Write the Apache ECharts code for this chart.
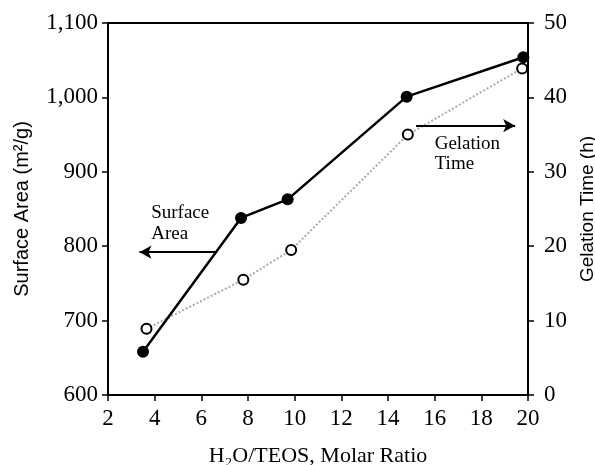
<!DOCTYPE html>
<html><head><meta charset="utf-8">
<script src="https://cdn.jsdelivr.net/npm/echarts@6/dist/echarts.min.js"></script>
<style>html,body{margin:0;padding:0;background:#fff}#c{width:595px;height:465px}</style>
</head><body><div id="c"></div>
<script>
const ratioSurface = [3.5, 7.7, 9.7, 14.8, 19.8];
const surfaceArea = [658, 838, 863, 1001, 1054];
const ratioGelation = [3.65, 7.8, 9.85, 14.85, 19.75];
const gelationTime = [8.9, 15.5, 19.5, 35.0, 43.9];
const xTicks = [2, 4, 6, 8, 10, 12, 14, 16, 18, 20];
const leftTicks = [600, 700, 800, 900, 1000, 1100];
const rightTicks = [0, 10, 20, 30, 40, 50];

const serif = "'Liberation Serif','Times New Roman',serif";
const sans = "'Liberation Sans',Arial,sans-serif";
const ink = '#000';
const chart = echarts.init(document.getElementById('c'));
const axisLine = {show: true, lineStyle: {color: ink, width: 2}};
chart.setOption({
  animation: false,
  grid: {left: 108, right: 67, top: 23, bottom: 70, containLabel: false, outerBoundsMode: 'none'},
  xAxis: [{
    type: 'value', min: xTicks[0], max: xTicks[xTicks.length-1], interval: 2,
    axisLine: axisLine, axisTick: {show: true, length: 6, lineStyle: {color: ink, width: 1.5}},
    splitLine: {show: false},
    axisLabel: {color: ink, fontFamily: serif, fontSize: 23, margin: 12},
    name: 'H\u2082O/TEOS, Molar Ratio', nameLocation: 'middle', nameGap: 50,
    nameTextStyle: {color: ink, fontFamily: serif, fontSize: 22}
  }, {
    type: 'value', position: 'top', min: 2, max: 20,
    axisLine: axisLine, axisTick: {show: false}, axisLabel: {show: false}, splitLine: {show: false}
  }],
  yAxis: [{
    type: 'value', min: leftTicks[0], max: leftTicks[leftTicks.length-1], interval: 100,
    axisLine: axisLine, axisTick: {show: true, length: 6, lineStyle: {color: ink, width: 1.5}},
    splitLine: {show: false},
    axisLabel: {color: ink, fontFamily: serif, fontSize: 23, margin: 10,
      formatter: v => v.toLocaleString('en-US')},
    name: 'Surface Area (m\u00B2/g)', nameLocation: 'middle', nameGap: 76, nameRotate: 90,
    nameTextStyle: {color: ink, fontFamily: sans, fontSize: 20}
  }, {
    type: 'value', position: 'right', min: rightTicks[0], max: rightTicks[rightTicks.length-1], interval: 10,
    axisLine: axisLine, axisTick: {show: true, length: 6, lineStyle: {color: ink, width: 1.5}},
    splitLine: {show: false},
    axisLabel: {color: ink, fontFamily: serif, fontSize: 23, margin: 16},
    name: 'Gelation Time (h)', nameLocation: 'middle', nameGap: 41, nameRotate: 90,
    nameTextStyle: {color: ink, fontFamily: sans, fontSize: 19}
  }],
  series: [{
    name: 'Gelation Time', type: 'line', yAxisIndex: 1,
    data: ratioGelation.map((x, i) => [x, gelationTime[i]]),
    symbol: 'circle', symbolSize: 10,
    itemStyle: {color: '#fff', borderColor: ink, borderWidth: 2},
    lineStyle: {color: '#aaa', width: 2, type: 'dotted'}, z: 2
  }, {
    name: 'Surface Area', type: 'line', yAxisIndex: 0,
    data: ratioSurface.map((x, i) => [x, surfaceArea[i]]),
    symbol: 'circle', symbolSize: 12,
    itemStyle: {color: ink, borderColor: ink, borderWidth: 0},
    lineStyle: {color: ink, width: 2.5}, z: 3,
    markLine: {
      silent: true, animation: false, label: {show: false},
      lineStyle: {color: ink, width: 2, type: 'solid'}, symbolSize: [10, 12],
      data: [
        [{coord: [6.6, 792], symbol: 'none'}, {coord: [3.35, 792], symbol: 'arrow'}],
        [{coord: [15.2, 962], symbol: 'none'}, {coord: [19.45, 962], symbol: 'arrow'}]
      ]
    }
  }]
});

const p1 = chart.convertToPixel({xAxisIndex: 0, yAxisIndex: 0}, [3.85, 792]);
const p2 = chart.convertToPixel({xAxisIndex: 0, yAxisIndex: 0}, [16.0, 962]);
chart.setOption({
  graphic: [
    {type: 'text', x: p1[0], y: p1[1] - 50, style: {text: 'Surface\nArea', font: '19px ' + serif, fill: ink, lineHeight: 21}},
    {type: 'text', x: p2[0], y: p2[1] + 8, style: {text: 'Gelation\nTime', font: '19px ' + serif, fill: ink, lineHeight: 20}}
  ]
});
</script></body></html>
